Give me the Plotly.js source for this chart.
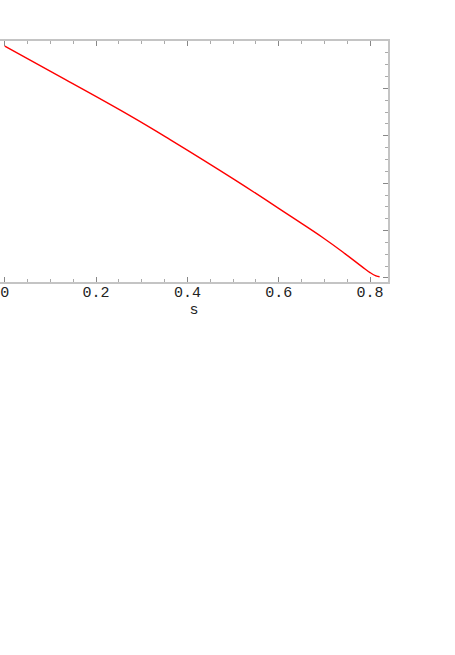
<!DOCTYPE html>
<html>
<head>
<meta charset="utf-8">
<script src="https://cdn.plot.ly/plotly-3.0.1.min.js"></script>
<style>html,body{margin:0;padding:0;background:#fff;}#chart{width:455px;height:655px;}</style>
</head>
<body>
<div id="chart"></div>
<script>
// Curve values
var sValues = [0.000, 0.132, 0.274, 0.362, 0.504, 0.625, 0.697, 0.745, 0.783, 0.800, 0.813, 0.821];
var yValues = [0.978, 0.838, 0.685, 0.584, 0.414, 0.262, 0.170, 0.103, 0.047, 0.023, 0.009, 0.005];
var xTickVals = [0, 0.2, 0.4, 0.6, 0.8];
var xTickText = ["0", "0.2", "0.4", "0.6", "0.8"];
var yTickVals = [0, 0.2, 0.4, 0.6, 0.8, 1.0];

var frameColor = "#c4c4c4";
var monoFont = "Liberation Mono, Courier New, monospace";
var trace = {
  x: sValues, y: yValues, type: "scatter", mode: "lines",
  line: {color: "#ff0000", width: 1.4, shape: "spline", smoothing: 1.2},
  hoverinfo: "none", showlegend: false
};
var layout = {
  width: 455, height: 655,
  margin: {l: 0, r: 67, t: 41, b: 373, pad: 0},
  paper_bgcolor: "#ffffff", plot_bgcolor: "#ffffff",
  font: {family: monoFont, size: 15, color: "#222"},
  xaxis: {
    range: [-0.0105, 0.8394], showgrid: false, zeroline: false,
    showline: true, linecolor: frameColor, linewidth: 2, mirror: "ticks",
    ticks: "inside", ticklen: 5, tickcolor: "#888", tickwidth: 1,
    tickvals: xTickVals, ticktext: xTickText,
    minor: {dtick: 0.05, ticks: "inside", ticklen: 3, tickcolor: "#aaa", tickwidth: 1},
    tickfont: {family: monoFont, size: 15, color: "#222"},
    ticklabelstandoff: -5,
    title: {text: "s", standoff: 0, font: {family: monoFont, size: 15, color: "#222"}}
  },
  yaxis: {
    range: [-0.0169, 1.0], side: "right", showgrid: false, zeroline: false,
    showline: true, linecolor: frameColor, linewidth: 2, mirror: false,
    ticks: "inside", ticklen: 5, tickcolor: "#888", tickwidth: 1,
    tickvals: yTickVals, showticklabels: false,
    minor: {dtick: 0.05, ticks: "inside", ticklen: 3, tickcolor: "#aaa", tickwidth: 1}
  }
};
Plotly.newPlot("chart", [trace], layout, {staticPlot: true, displayModeBar: false});
</script>
</body>
</html>
